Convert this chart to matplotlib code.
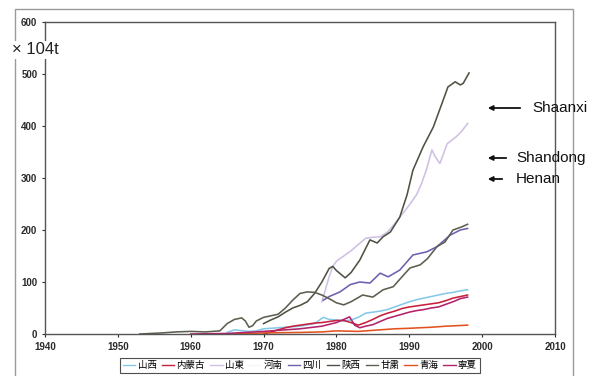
import numpy as np
import matplotlib
matplotlib.use('Agg')
import matplotlib.pyplot as plt
from matplotlib.patches import Rectangle

plt.rcParams['font.family'] = ['Liberation Sans', 'Noto Sans CJK JP', 'DejaVu Sans']

# province names (legend order)
names = ['山西', '内蒙古', '山東', '河南', '四川', '陕西', '甘粛', '青海', '寧夏']
colors = ['#86c8ea', '#c8203c', '#cfc0e4', '#f6f6f6', '#6f5fb0', '#4f5244', '#5d5e50', '#e2521e', '#b3226a']

# yields, 10^4 t
shanxi_x = [1965, 1966, 1968, 1969, 1970, 1972, 1975, 1977, 1978.2, 1979, 1980, 1981, 1982, 1983, 1984,
            1985, 1986, 1987, 1988, 1989, 1990, 1991, 1992, 1993, 1994, 1995, 1996, 1997, 1998]
shanxi_y = [3, 8, 5, 6, 10, 12, 15, 20, 32, 28, 27, 25, 27, 32, 40,
            42, 44, 47, 52, 57, 62, 66, 69, 72, 75, 78, 80, 83, 85]

neimenggu_x = [1970, 1971, 1972, 1973, 1974, 1975, 1976, 1977, 1978, 1979, 1980, 1981, 1982, 1983, 1984,
               1985, 1986, 1987, 1988, 1989, 1990, 1991, 1992, 1993, 1994, 1995, 1996, 1997, 1998]
neimenggu_y = [0, 4, 8, 12, 15, 17, 19, 21, 22, 24, 26, 26, 22, 17, 22,
               28, 35, 40, 44, 49, 52, 54, 56, 58, 60, 64, 69, 72, 75]

shandong_x = [1978, 1979, 1979.5, 1980, 1981, 1982, 1983, 1984, 1985, 1986, 1987, 1988, 1989, 1990,
              1991, 1991.7, 1992.4, 1993.1, 1993.6, 1994.2, 1995.2, 1996.5, 1997.2, 1998]
shandong_y = [62, 110, 130, 140, 150, 160, 172, 184, 186, 187, 196, 212, 230, 248,
              268, 290, 318, 354, 340, 328, 366, 380, 390, 405]

henan_x = []
henan_y = []

sichuan_x = [1978.2, 1979, 1980.5, 1981.9, 1983.2, 1984.6, 1986, 1987.1, 1988.7, 1990.5, 1992.4,
             1993.8, 1995.6, 1997, 1998]
sichuan_y = [65, 72, 81, 95, 100, 98, 117, 110, 123, 152, 158, 168, 190, 200, 203]

shaanxi_x = [1970, 1971, 1972, 1973, 1974, 1975, 1976, 1977, 1978, 1979, 1979.5, 1980, 1981.2, 1982,
             1983.2, 1984.6, 1985.6, 1986.4, 1987.4, 1988.7, 1989.7, 1990.5, 1991.9, 1993.3, 1994.5,
             1995.3, 1996.3, 1997, 1997.4, 1998.2]
shaanxi_y = [20, 27, 33, 42, 50, 55, 62, 78, 100, 126, 130, 122, 108, 118,
             142, 181, 175, 187, 196, 225, 268, 315, 360, 398, 444,
             475, 485, 479, 482, 502]

gansu_x = [1953, 1956, 1958, 1960, 1962, 1964, 1965, 1966, 1967, 1967.5, 1968, 1968.5, 1969, 1970,
           1971, 1972, 1973, 1974, 1975, 1976, 1977, 1978, 1979, 1980, 1981, 1982, 1983.6, 1985,
           1986.4, 1987.8, 1989, 1990.1, 1991.5, 1992.5, 1993.8, 1994.9, 1996, 1997.2, 1998]
gansu_y = [0, 2, 4, 5, 4, 6, 20, 28, 31, 25, 13, 16, 25, 32,
           35, 38, 50, 65, 78, 81, 80, 75, 68, 60, 56, 62, 75, 71,
           85, 91, 110, 127, 133, 145, 168, 177, 200, 206, 211]

qinghai_x = [1965, 1970, 1975, 1978, 1980, 1983, 1985, 1988, 1990, 1993, 1995, 1998]
qinghai_y = [0, 2, 3, 4, 6, 5, 7, 10, 11, 13, 15, 17]

ningxia_x = [1960, 1965, 1970, 1975, 1978, 1980, 1981, 1981.8, 1982.5, 1983.2, 1984, 1985, 1986,
             1987, 1988, 1989, 1990, 1991, 1992, 1993, 1994, 1995, 1996, 1997, 1998]
ningxia_y = [0, 1, 5, 10, 15, 22, 28, 33, 17, 12, 15, 18, 24,
             30, 34, 38, 42, 45, 47, 50, 52, 57, 62, 68, 71]

series_x = [shanxi_x, neimenggu_x, shandong_x, henan_x, sichuan_x, shaanxi_x, gansu_x, qinghai_x, ningxia_x]
series_y = [shanxi_y, neimenggu_y, shandong_y, henan_y, sichuan_y, shaanxi_y, gansu_y, qinghai_y, ningxia_y]

W, H = 604, 376
fig = plt.figure(figsize=(W / 100, H / 100), dpi=100)
ax = fig.add_axes([45 / W, 1 - 334 / H, 510 / W, 312 / H])

# outer frame
fig.patches.append(Rectangle((15 / W, -0.05), 558 / W, (376 - 9) / H + 0.05,
                             transform=fig.transFigure, fill=False, ec='#9a9a9a', lw=1.0))

for xs, ys, c, n in zip(series_x, series_y, colors, names):
    ax.plot(xs, ys, color=c, lw=1.15, label=n)

ax.set_xlim(1940, 2010)
ax.set_ylim(0, 600)
ax.set_xticks(range(1940, 2011, 10))
ax.set_yticks(range(0, 601, 100))
ax.tick_params(labelsize=7, colors='#2a2a2a', length=2, width=0.8)
for lab in ax.get_xticklabels() + ax.get_yticklabels():
    lab.set_fontweight('bold')
for s in ax.spines.values():
    s.set_color('#555555')
    s.set_linewidth(1.0)

fig.text(12 / W, 1 - 50 / H, '× 104t', fontsize=12, va='center', ha='left', color='#222222',
         bbox=dict(facecolor='white', edgecolor='none', pad=1))

# labels with arrows on the right
labels = [('Shaanxi', 108, 523, 532), ('Shandong', 158, 509, 516), ('Henan', 179, 505, 516)]
for txt, yp, x0, xt in labels:
    fig.add_artist(matplotlib.patches.FancyArrowPatch(
        (x0 / W, 1 - yp / H), (485 / W, 1 - yp / H), transform=fig.transFigure,
        arrowstyle='-|>', mutation_scale=7, color='#111111', lw=1.3))
    fig.text(xt / W, 1 - yp / H, txt, fontsize=11, va='center', ha='left', color='#111111')

leg = fig.legend(loc='upper center', bbox_to_anchor=(300 / W, 1 - 358 / H), ncol=9,
                 frameon=True, fancybox=False, handlelength=1.3, handletextpad=0.25,
                 columnspacing=0.55, borderpad=0.3, borderaxespad=0,
                 prop={'family': ['Noto Sans CJK JP', 'DejaVu Sans'], 'size': 6.8})
leg.get_frame().set_edgecolor('#222222')
leg.get_frame().set_linewidth(0.8)
for line in leg.get_lines():
    line.set_linewidth(1.0)

fig.savefig('out.png', dpi=100)
